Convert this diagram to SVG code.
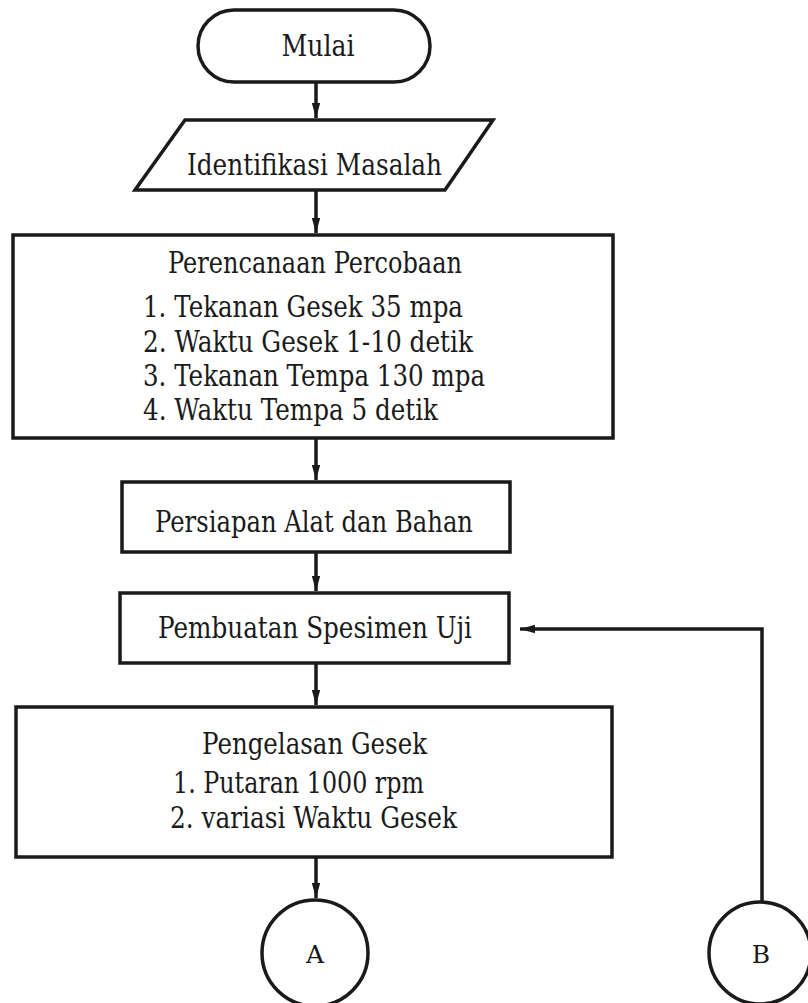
<svg xmlns="http://www.w3.org/2000/svg" width="808" height="1003" viewBox="0 0 808 1003">
<defs>
<marker id="arr" markerUnits="userSpaceOnUse" markerWidth="16" markerHeight="10" refX="15" refY="5" orient="auto">
<path d="M0,0.8 L15,5 L0,9.2 Z" fill="#1a1a1a"/>
</marker>
<style>
.s{fill:#fff;stroke:#1a1a1a;stroke-width:3.5}
.c{fill:none;stroke:#1a1a1a;stroke-width:3.5}
.t{font-family:'DejaVu Serif',serif;font-size:29px;fill:#1a1a1a}
.m{text-anchor:middle}
.l{font-size:25px}
</style>
</defs>
<rect width="808" height="1003" fill="#fff"/>
<g id="connectors">
<path class="c" d="M316,82 V118" marker-end="url(#arr)"/>
<path class="c" d="M316,190 V233" marker-end="url(#arr)"/>
<path class="c" d="M316,438 V480" marker-end="url(#arr)"/>
<path class="c" d="M316,552 V591" marker-end="url(#arr)"/>
<path class="c" d="M316,663 V705" marker-end="url(#arr)"/>
<path class="c" d="M316,857 V898" marker-end="url(#arr)"/>
<path class="c" d="M762,902 V629 H520" marker-end="url(#arr)"/>
</g>
<g id="mulai">
<rect class="s" x="198" y="10" width="232" height="72" rx="36"/>
<text class="t m" x="318" y="56" textLength="73" lengthAdjust="spacingAndGlyphs">Mulai</text>
</g>
<g id="identifikasi">
<polygon class="s" points="185,120 493,120 445,190 135,190"/>
<text class="t m" x="314.5" y="175" textLength="255" lengthAdjust="spacingAndGlyphs">Identifikasi Masalah</text>
</g>
<g id="perencanaan">
<rect class="s" x="13" y="235" width="600" height="203"/>
<text class="t m" x="315" y="273" textLength="294" lengthAdjust="spacingAndGlyphs">Perencanaan Percobaan</text>
<text class="t" x="143" y="317" textLength="320" lengthAdjust="spacingAndGlyphs">1. Tekanan Gesek 35 mpa</text>
<text class="t" x="143" y="352" textLength="330" lengthAdjust="spacingAndGlyphs">2. Waktu Gesek 1-10 detik</text>
<text class="t" x="143" y="386" textLength="342" lengthAdjust="spacingAndGlyphs">3. Tekanan Tempa 130 mpa</text>
<text class="t" x="143" y="420" textLength="295" lengthAdjust="spacingAndGlyphs">4. Waktu Tempa 5 detik</text>
</g>
<g id="persiapan">
<rect class="s" x="122" y="482" width="388" height="70"/>
<text class="t m" x="314" y="532" textLength="318" lengthAdjust="spacingAndGlyphs">Persiapan Alat dan Bahan</text>
</g>
<g id="pembuatan">
<rect class="s" x="120" y="593" width="389" height="70"/>
<text class="t m" x="315" y="638" textLength="314" lengthAdjust="spacingAndGlyphs">Pembuatan Spesimen Uji</text>
</g>
<g id="pengelasan">
<rect class="s" x="16" y="707" width="596" height="150"/>
<text class="t m" x="314.5" y="754" textLength="225" lengthAdjust="spacingAndGlyphs">Pengelasan Gesek</text>
<text class="t" x="173" y="793" textLength="251" lengthAdjust="spacingAndGlyphs">1. Putaran 1000 rpm</text>
<text class="t" x="170" y="828" textLength="287" lengthAdjust="spacingAndGlyphs">2. variasi Waktu Gesek</text>
</g>
<g id="A">
<circle class="s" cx="315" cy="953" r="53"/>
<text class="t m l" x="315" y="963">A</text>
</g>
<g id="B">
<circle class="s" cx="760" cy="953" r="51"/>
<text class="t m l" x="761" y="963">B</text>
</g>
</svg>
